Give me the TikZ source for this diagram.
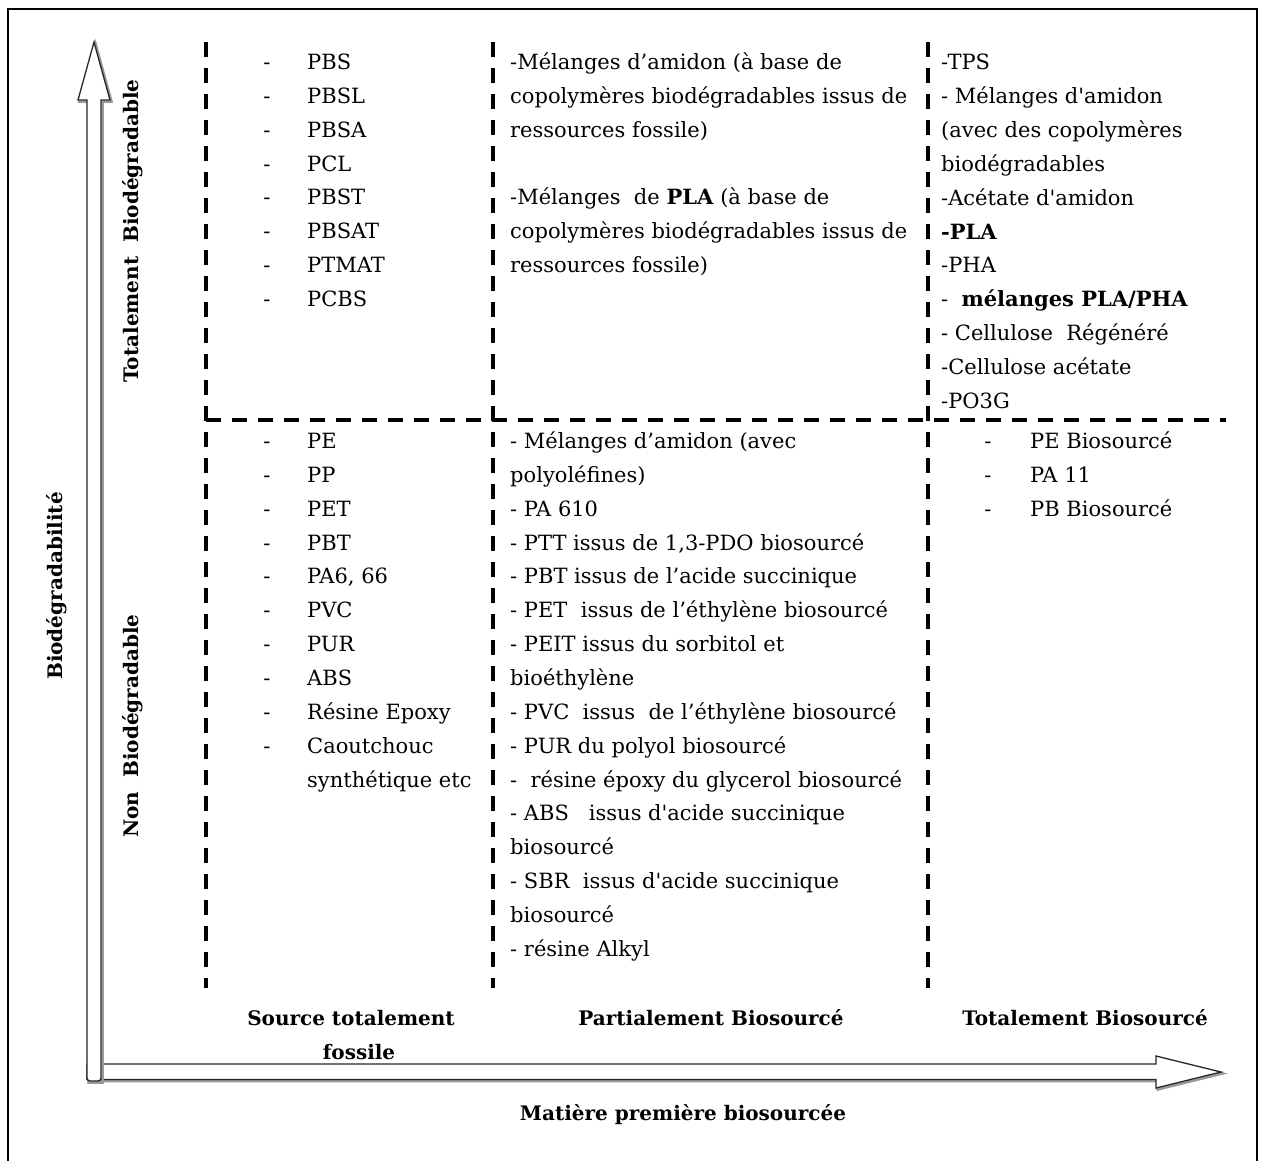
\documentclass[tikz,border=0pt]{standalone}
\usepackage{fontspec}
\setmainfont{DejaVu Serif}
\newcommand{\sq}{\textquotesingle}
\begin{document}
\begin{tikzpicture}[x=1pt,y=-1pt,
  txt/.style={anchor=base west,inner sep=0pt,font=\fontsize{21}{25}\selectfont},
  hy/.style={anchor=base,inner sep=0pt,font=\fontsize{21}{25}\selectfont},
  lbl/.style={anchor=base,inner sep=0pt,font=\bfseries\fontsize{20}{24}\selectfont},
  rlbl/.style={inner sep=0pt,rotate=90,font=\bfseries\fontsize{20}{24}\selectfont},
  gridline/.style={line width=3.5pt,dash pattern=on 15pt off 11pt},
  axisbody/.style={draw=black!85,line width=1.3pt,fill=white,line join=miter},
  axisshadow/.style={draw=black!40,line width=2.5pt,line join=miter},
]
\useasboundingbox (0,0) rectangle (1265,1160);
% outer frame
\draw[line width=2pt] (8,1180) -- (8,9) -- (1257,9) -- (1257,1180);

% horizontal axis arrow
\draw[axisshadow,shift={(1.5,1.5)}] (87,1064) -- (1156,1064) -- (1156,1056) -- (1221,1072) -- (1156,1088) -- (1156,1079.5) -- (87,1079.5) -- cycle;
\draw[axisbody] (87,1064) -- (1156,1064) -- (1156,1056) -- (1221,1072) -- (1156,1088) -- (1156,1079.5) -- (87,1079.5) -- cycle;
% vertical axis arrow
\draw[axisshadow,shift={(1.5,1.5)}] (87,100) -- (78,100) -- (94,42) -- (110,100) -- (101,100) -- (101,1081) -- (87,1081) -- cycle;
\draw[axisbody] (87,100) -- (78,100) -- (94,42) -- (110,100) -- (101,100) [rounded corners=3pt] -- (101,1081) -- (87,1081) -- (87,1000) [sharp corners] -- cycle;

% grid
\draw[gridline] (206,42) -- (206,988);
\draw[gridline] (493,42) -- (493,988);
\draw[gridline] (928,42) -- (928,988);
\draw[gridline] (206,420) -- (1226,420);

% axis labels
\node[rlbl] (tbio) at (133,231) {Totalement\ \ Biodégradable};
\node[rlbl] (nbio) at (133,726) {Non\ \ Biodégradable};
\node[rlbl] (biod) at (57,586) {Biodégradabilité};
\node[lbl] (sf1) at (351,1025) {Source totalement};
\node[lbl] (sf2) at (359,1059) {fossile};
\node[lbl] (pbio) at (711,1025) {Partialement Biosourcé};
\node[lbl] (tbs) at (1085,1025) {Totalement Biosourcé};
\node[lbl] (mpb) at (683,1120) {Matière première biosourcée};

% column 1 top
\foreach \t [count=\i from 0] in {PBS,PBSL,PBSA,PCL,PBST,PBSAT,PTMAT,PCBS}{
  \node[hy] (h1t\i) at (267,{69.5+33.85*\i}) {-};
  \node[txt] (c1t\i) at (307,{69.5+33.85*\i}) {\t};
}
% column 1 bottom
\foreach \t [count=\i from 0] in {PE,PP,PET,PBT,{PA6, 66},PVC,PUR,ABS,Résine Epoxy,Caoutchouc}{
  \node[hy] (h1b\i) at (267,{448.5+33.85*\i}) {-};
  \node[txt] (c1b\i) at (307,{448.5+33.85*\i}) {\t};
}
\node[txt] (c1b10) at (307,{448.5+33.85*10}) {synthétique etc};

% column 2 top
\foreach \t [count=\i from 0] in {{-Mélanges d’amidon (à base de},{copolymères biodégradables issus de},{ressources fossile)}}{
  \node[txt] (c2a\i) at (510,{69.5+33.85*\i}) {\t};
}
\foreach \t [count=\i from 0] in {{-Mélanges\ \ de \textbf{PLA} (à base de},{copolymères biodégradables issus de},{ressources fossile)}}{
  \node[txt] (c2b\i) at (510,{69.5+33.85*(\i+4)}) {\t};
}

% column 2 bottom
\foreach \t [count=\i from 0] in {
  {- Mélanges d’amidon (avec},
  {polyoléfines)},
  {- PA 610},
  {- PTT issus de 1,3-PDO biosourcé},
  {- PBT issus de l’acide succinique},
  {- PET\ \ issus de l’éthylène biosourcé},
  {- PEIT issus du sorbitol et},
  {bioéthylène},
  {- PVC\ \ issus\ \ de l’éthylène biosourcé},
  {- PUR du polyol biosourcé},
  {-\ \ résine époxy du glycerol biosourcé},
  {- ABS\ \ \ issus d\sq acide succinique},
  {biosourcé},
  {- SBR\ \ issus d\sq acide succinique},
  {biosourcé},
  {- résine Alkyl}}{
  \node[txt] (c2c\i) at (510,{448.5+33.85*\i}) {\t};
}

% column 3 top
\foreach \t [count=\i from 0] in {
  {-TPS},
  {- Mélanges d\sq amidon},
  {(avec des copolymères},
  {biodégradables},
  {-Acétate d\sq amidon},
  {\textbf{-PLA}},
  {-PHA},
  {-\ \ \textbf{mélanges PLA/PHA}},
  {- Cellulose\ \ Régénéré},
  {-Cellulose acétate},
  {-PO3G}}{
  \node[txt] (c3t\i) at (941,{69.5+33.9*\i}) {\t};
}

% column 3 bottom
\foreach \t [count=\i from 0] in {PE Biosourcé,PA 11,PB Biosourcé}{
  \node[hy] (h3b\i) at (988,{448.5+33.85*\i}) {-};
  \node[txt] (c3b\i) at (1030,{448.5+33.85*\i}) {\t};
}
\end{tikzpicture}
\end{document}
